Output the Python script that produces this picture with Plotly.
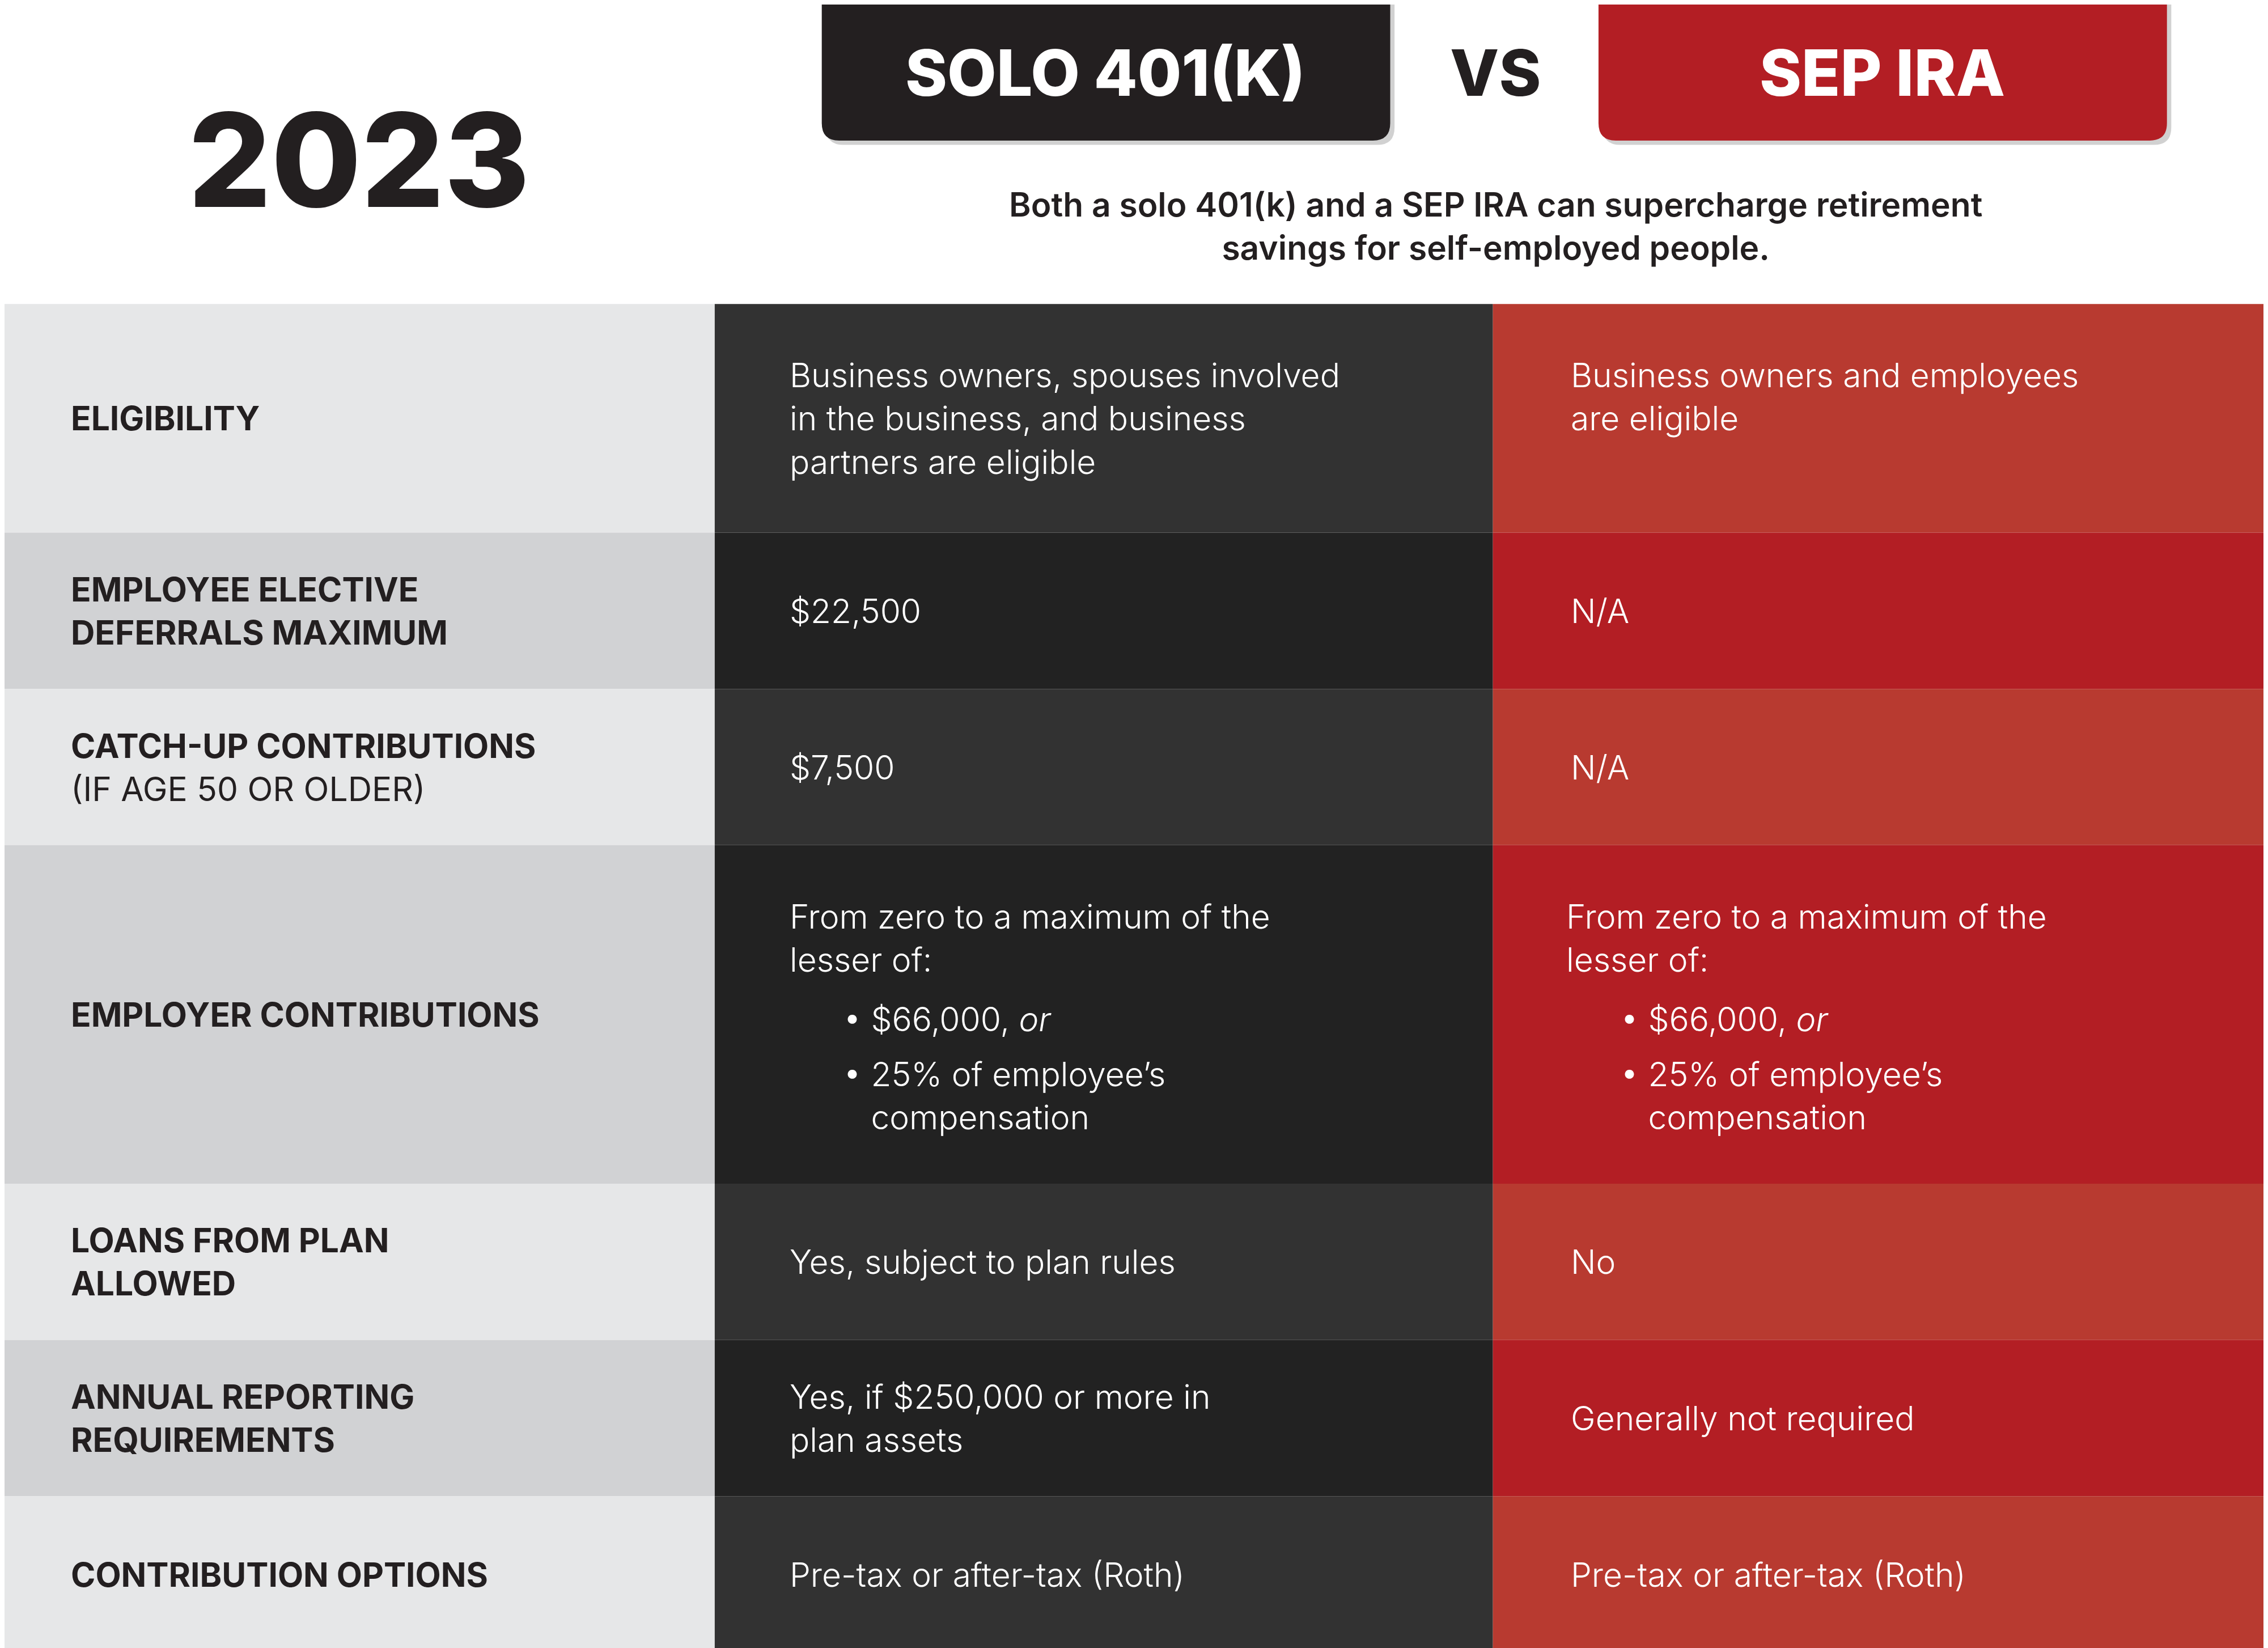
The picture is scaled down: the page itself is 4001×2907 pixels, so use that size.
import plotly.graph_objects as go

W, H = 4001, 2907
BW, BH = 1568, 1139          # design units
S = W / BW

year = "2023"
title_left = "SOLO 401(K)"
title_right = "SEP IRA"
subtitle = "Both a solo 401(k) and a SEP IRA can supercharge retirement<br>savings for self-employed people."

row_labels = ["ELIGIBILITY", "EMPLOYEE ELECTIVE<br>DEFERRALS MAXIMUM",
              "CATCH-UP CONTRIBUTIONS<br><span style='font-weight:400'>(IF AGE 50 OR OLDER)</span>",
              "EMPLOYER CONTRIBUTIONS", "LOANS FROM PLAN<br>ALLOWED",
              "ANNUAL REPORTING<br>REQUIREMENTS", "CONTRIBUTION OPTIONS"]
row_heights = [158, 108, 108, 234, 108, 108, 108]
solo_values = ["Business owners, spouses involved<br>in the business, and business<br>partners are eligible",
               "$22,500", "$7,500", None, "Yes, subject to plan rules",
               "Yes, if $250,000 or more in<br>plan assets", "Pre-tax or after-tax (Roth)"]
sep_values = ["Business owners and employees<br>are eligible<br> ", "N/A", "N/A", None, "No",
              "Generally not required", "Pre-tax or after-tax (Roth)"]
employer_intro = "From zero to a maximum of the<br>lesser of:"
employer_bullets = ["• $66,000, <i>or</i>", "• 25% of employee’s<br>   compensation"]

col_edges = [0, 491, 1029, 1568]
left_cols = ["#e6e7e8", "#d1d2d4"]
mid_cols = ["#323232", "#222222"]
right_cols = ["#b83a30", "#b31e24"]
FONT = "Inter"

fig = go.Figure()
shapes, ann = [], []

def A(x, y, text, size, color, weight=400, xa="left", ya="middle", align="left"):
    ann.append(dict(x=x, y=y, text=text, showarrow=False, xanchor=xa, yanchor=ya, align=align,
                    font=dict(family=FONT, size=size * S, color=color, weight=weight)))

top = 207
for i, h in enumerate(row_heights):
    y0, y1 = top, top + h
    for c, cols in enumerate([left_cols, mid_cols, right_cols]):
        shapes.append(dict(type="rect", x0=col_edges[c], x1=col_edges[c + 1], y0=y0, y1=y1,
                           fillcolor=cols[i % 2], line_width=0, layer="below"))
    yc = (y0 + y1) / 2
    A(45, yc, row_labels[i], 23, "#231f20", 700)
    if solo_values[i] is not None:
        A(542, yc, solo_values[i], 23, "#ffffff", 300)
        A(1082, yc, sep_values[i], 23, "#ffffff", 300)
    else:
        for x0 in (542, 1079):
            A(x0, 645, employer_intro, 23, "#ffffff", 300)
            A(x0 + 37, 701, employer_bullets[0], 23, "#ffffff", 300)
            A(x0 + 37, 754, employer_bullets[1], 23, "#ffffff", 300)
    top = y1

# header boxes
def box(x0, x1, y1, r, color):
    return dict(type="path", fillcolor=color, line_width=0,
                path=f"M {x0},0 L {x1},0 L {x1},{y1-r} Q {x1},{y1} {x1-r},{y1} "
                     f"L {x0+r},{y1} Q {x0},{y1} {x0},{y1-r} Z")
shapes.append(box(568, 961, 97, 12, "rgba(0,0,0,0.18)"))
shapes.append(box(1105, 1498, 97, 12, "rgba(0,0,0,0.18)"))
shapes.append(box(565, 958, 94, 12, "#231f20"))
shapes.append(box(1102, 1495, 94, 12, "#b31e24"))
A(761, 47, title_left, 44, "#ffffff", 800, xa="center")
A(1298, 47, title_right, 44, "#ffffff", 800, xa="center")
A(1031, 47, "VS", 44, "#231f20", 800, xa="center")
A(245, 107, year, 90, "#231f20", 800, xa="center")
A(1031, 153, subtitle, 23, "#231f20", 600, xa="center", align="center")

fig.update_layout(width=W, height=H, margin=dict(l=0, r=0, t=0, b=0),
                  paper_bgcolor="white", plot_bgcolor="white",
                  shapes=shapes, annotations=ann, showlegend=False,
                  xaxis=dict(range=[0, BW], visible=False, fixedrange=True),
                  yaxis=dict(range=[BH, 0], visible=False, fixedrange=True))
fig.write_html("out.html")
